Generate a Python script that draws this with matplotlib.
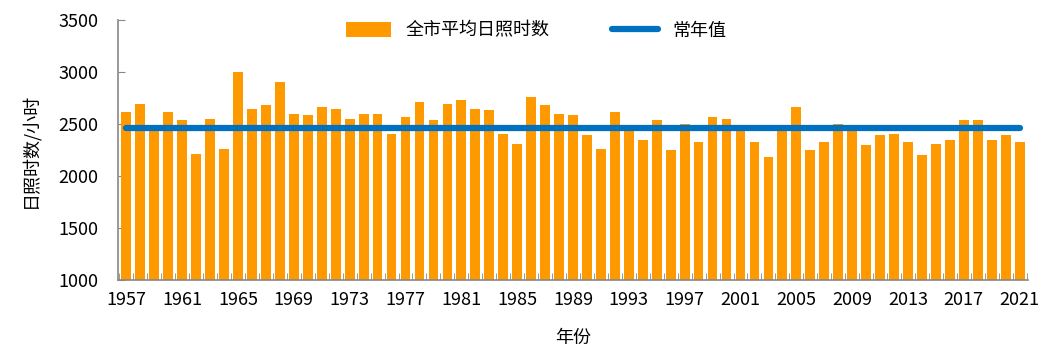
import matplotlib
matplotlib.use('Agg')
import matplotlib.pyplot as plt
import numpy as np

plt.rcParams['font.family'] = ['Noto Sans CJK SC', 'DejaVu Sans']

# 年份和日照时数
years = list(range(1957, 2022))
sunshine = [2615, 2696, 2446, 2615, 2536, 2215, 2552, 2263, 3000, 2648,
            2680, 2904, 2600, 2584, 2664, 2648, 2552, 2600, 2600, 2408,
            2567, 2712, 2536, 2696, 2728, 2648, 2632, 2408, 2311, 2760,
            2680, 2600, 2584, 2391, 2263, 2615, 2446, 2343, 2536, 2247,
            2504, 2327, 2567, 2552, 2446, 2327, 2183, 2446, 2664, 2247,
            2327, 2504, 2470, 2295, 2391, 2408, 2327, 2199, 2311, 2343,
            2536, 2536, 2343, 2391, 2327]
normal_value = 2465
tick_years = list(range(1957, 2022, 4))

fig = plt.figure(figsize=(10.61, 3.61), dpi=100)
ax = fig.add_axes([118/1061, 1 - 280/361, (1028-118)/1061, (280-20)/361])

bars = ax.bar(years, sunshine, width=0.7, color='#FF9900', label='全市平均日照时数', zorder=2)
line, = ax.plot([years[0], years[-1]], [normal_value, normal_value], color='#0070C0',
                linewidth=4.5, solid_capstyle='round', label='常年值', zorder=3)

ax.set_ylim(1000, 3500)
ax.set_yticks(range(1000, 3501, 500))
ax.set_xlim(years[0] - 0.6, years[-1] + 0.6)
ax.set_xticks(tick_years)
ax.set_xticks(np.arange(years[0] - 0.5, years[-1] + 1, 1), minor=True)

for side in ['top', 'right']:
    ax.spines[side].set_visible(False)
for side in ['left', 'bottom']:
    ax.spines[side].set_color('#888888')
    ax.spines[side].set_linewidth(1.2)

ax.tick_params(axis='x', which='major', length=0, pad=8, labelsize=13)
ax.tick_params(axis='x', which='minor', direction='in', length=5, color='#888888')
ax.tick_params(axis='y', direction='in', length=5, color='#888888', labelsize=13, pad=14)

ax.set_ylabel('日照时数/小时', fontsize=13, labelpad=14)
ax.set_xlabel('年份', fontsize=13, labelpad=14)

fig.legend([bars, line], ['全市平均日照时数', '常年值'], loc='upper center',
           bbox_to_anchor=(0.505, 0.985), ncol=2, frameon=False,
           fontsize=13, handlelength=2.5, handleheight=0.9, columnspacing=3.5)

plt.savefig('out.png', dpi=100)
